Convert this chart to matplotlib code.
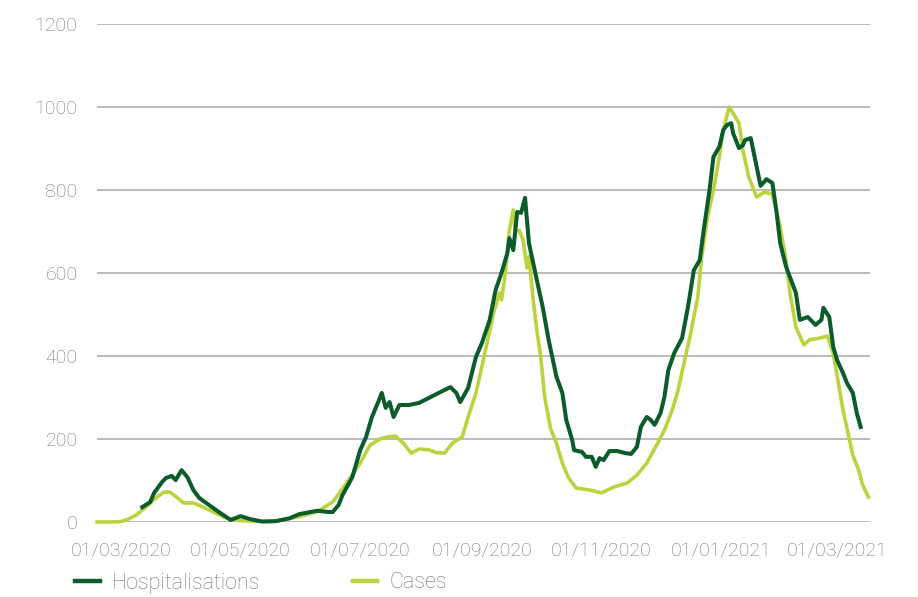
import matplotlib
matplotlib.use("Agg")
import matplotlib.pyplot as plt
import matplotlib.dates as mdates
import pandas as pd

cases_dates = [
    "2020-02-18", "2020-02-25", "2020-03-01", "2020-03-04", "2020-03-09", "2020-03-14",
    "2020-03-19", "2020-03-23", "2020-03-26", "2020-03-30", "2020-04-02", "2020-04-07",
    "2020-04-10", "2020-04-15", "2020-04-22", "2020-04-27", "2020-05-02", "2020-05-10",
    "2020-05-17", "2020-05-23", "2020-05-31", "2020-06-09", "2020-06-17", "2020-06-24",
    "2020-07-01", "2020-07-06", "2020-07-11", "2020-07-15", "2020-07-19", "2020-07-23",
    "2020-07-27", "2020-07-31", "2020-08-05", "2020-08-09", "2020-08-13", "2020-08-17",
    "2020-08-22", "2020-08-25", "2020-08-29", "2020-09-01", "2020-09-04", "2020-09-07",
    "2020-09-10", "2020-09-11", "2020-09-13", "2020-09-15", "2020-09-17", "2020-09-18",
    "2020-09-20", "2020-09-22", "2020-09-24", "2020-09-25", "2020-09-27", "2020-09-29",
    "2020-10-01", "2020-10-03", "2020-10-06", "2020-10-09", "2020-10-12", "2020-10-15",
    "2020-10-19", "2020-10-26", "2020-11-01", "2020-11-07", "2020-11-14", "2020-11-19",
    "2020-11-24", "2020-11-29", "2020-12-03", "2020-12-07", "2020-12-10", "2020-12-13",
    "2020-12-16", "2020-12-20", "2020-12-22", "2020-12-25", "2020-12-28", "2020-12-31",
    "2021-01-02", "2021-01-05", "2021-01-07", "2021-01-10", "2021-01-12", "2021-01-15",
    "2021-01-19", "2021-01-23", "2021-01-27", "2021-01-31", "2021-02-03", "2021-02-05",
    "2021-02-08", "2021-02-12", "2021-02-15", "2021-02-20", "2021-02-24", "2021-02-27",
    "2021-03-02", "2021-03-04", "2021-03-07", "2021-03-09", "2021-03-12", "2021-03-14",
    "2021-03-17",
]
cases_values = [
    0, 0, 1, 5, 17, 37,
    58, 72, 72, 58, 46, 46,
    40, 29, 13, 5, 3, 2,
    2, 5, 13, 25, 48, 93,
    142, 185, 200, 205, 207, 190,
    166, 176, 174, 167, 166, 190,
    205, 253, 311, 374, 439, 504,
    552, 535, 600, 703, 752, 700,
    703, 680, 612, 640, 542, 462,
    398, 301, 225, 190, 142, 108,
    82, 77, 70, 84, 94, 113,
    142, 185, 221, 270, 318, 383,
    446, 542, 639, 735, 800, 880,
    945, 1000, 985, 961, 896, 831,
    783, 795, 790, 711, 631, 552,
    470, 427, 439, 443, 448, 407,
    325, 270, 205, 161, 125, 89,
    60,
]

hosp_dates = [
    "2020-03-12", "2020-03-16", "2020-03-18", "2020-03-22", "2020-03-24", "2020-03-27",
    "2020-03-29", "2020-04-01", "2020-04-04", "2020-04-07", "2020-04-10", "2020-04-15",
    "2020-04-20", "2020-04-26", "2020-05-01", "2020-05-06", "2020-05-12", "2020-05-19",
    "2020-05-26", "2020-05-31", "2020-06-09", "2020-06-15", "2020-06-17", "2020-06-20",
    "2020-06-22", "2020-06-27", "2020-07-01", "2020-07-04", "2020-07-07", "2020-07-10",
    "2020-07-12", "2020-07-14", "2020-07-16", "2020-07-18", "2020-07-21", "2020-07-26",
    "2020-07-31", "2020-08-05", "2020-08-10", "2020-08-16", "2020-08-19", "2020-08-21",
    "2020-08-25", "2020-08-29", "2020-09-01", "2020-09-05", "2020-09-08", "2020-09-11",
    "2020-09-14", "2020-09-15", "2020-09-17", "2020-09-19", "2020-09-21", "2020-09-23",
    "2020-09-25", "2020-09-29", "2020-10-02", "2020-10-05", "2020-10-09", "2020-10-12",
    "2020-10-14", "2020-10-17", "2020-10-18", "2020-10-22", "2020-10-24", "2020-10-27",
    "2020-10-29", "2020-10-31", "2020-11-02", "2020-11-05", "2020-11-09", "2020-11-13",
    "2020-11-16", "2020-11-19", "2020-11-21", "2020-11-24", "2020-11-26", "2020-11-28",
    "2020-12-01", "2020-12-03", "2020-12-05", "2020-12-08", "2020-12-12", "2020-12-15",
    "2020-12-18", "2020-12-21", "2020-12-23", "2020-12-26", "2020-12-28", "2020-12-31",
    "2021-01-02", "2021-01-04", "2021-01-06", "2021-01-07", "2021-01-10", "2021-01-12",
    "2021-01-13", "2021-01-16", "2021-01-19", "2021-01-21", "2021-01-24", "2021-01-27",
    "2021-01-29", "2021-01-31", "2021-02-03", "2021-02-08", "2021-02-10", "2021-02-14",
    "2021-02-18", "2021-02-21", "2021-02-22", "2021-02-25", "2021-02-27", "2021-03-01",
    "2021-03-04", "2021-03-06", "2021-03-09", "2021-03-11", "2021-03-13",
]
hosp_values = [
    36, 48, 70, 96, 106, 111,
    101, 125, 108, 77, 58, 41,
    24, 5, 14, 7, 1, 2,
    9, 19, 27, 24, 24, 41,
    65, 108, 173, 205, 253, 287,
    311, 275, 289, 253, 282, 282,
    287, 299, 311, 325, 311, 289,
    323, 398, 431, 487, 559, 600,
    648, 684, 655, 747, 745, 781,
    672, 583, 518, 439, 350, 311,
    246, 198, 173, 169, 157, 157,
    133, 154, 149, 171, 171, 166,
    164, 181, 229, 253, 246, 234,
    262, 301, 366, 407, 443, 518,
    607, 631, 703, 800, 880, 904,
    945, 957, 961, 937, 901, 908,
    920, 925, 856, 810, 826, 817,
    752, 672, 615, 552, 487, 494,
    475, 487, 516, 494, 422, 390,
    359, 335, 311, 263, 229,
]

tick_dates = ["2020-03-01", "2020-05-01", "2020-07-01", "2020-09-01",
              "2020-11-01", "2021-01-01", "2021-03-01"]
y_ticks = [0, 200, 400, 600, 800, 1000, 1200]
series_labels = ["Hospitalisations", "Cases"]

DARK = "#0a5c2b"
LIGHT = "#bcd23e"
TEXT = "#757575"
GRID = "#a8a8a8"

plt.rcParams["font.family"] = ["Roboto", "DejaVu Sans"]

fig = plt.figure(figsize=(9.18, 5.97), dpi=100)
ax = fig.add_axes([97 / 918, 1 - 522 / 597, (870 - 97) / 918, (522 - 24) / 597])

cd = pd.to_datetime(cases_dates)
hd = pd.to_datetime(hosp_dates)

ax.plot(cd, cases_values, color=LIGHT, lw=2.6, solid_joinstyle="round",
        clip_on=False, zorder=3, label=series_labels[1])
ax.plot(hd, hosp_values, color=DARK, lw=2.9, solid_joinstyle="round",
        clip_on=False, zorder=4, label=series_labels[0])

ax.set_ylim(0, 1200)
ax.set_yticks(y_ticks)
ax.set_xlim(pd.Timestamp("2020-02-17 22:00"), pd.Timestamp("2021-03-17 18:00"))
ax.set_xticks(pd.to_datetime(tick_dates))
ax.xaxis.set_major_formatter(mdates.DateFormatter("%d/%m/%Y"))

for s in ax.spines.values():
    s.set_visible(False)
ax.grid(axis="y", color=GRID, lw=1.1, zorder=0)
ax.grid(axis="x", visible=False)
ax.set_axisbelow(True)
ax.tick_params(axis="both", length=0, labelsize=14, labelcolor=TEXT)
ax.tick_params(axis="y", pad=14)
ax.tick_params(axis="x", pad=14)
for lbl in ax.get_xticklabels() + ax.get_yticklabels():
    lbl.set_fontweight("light")

handles, labels = ax.get_legend_handles_labels()
order = [1, 0]
leg = fig.legend([handles[i] for i in order], [labels[i] for i in order],
                 loc="center left", bbox_to_anchor=(75 / 918, 1 - 583 / 597),
                 ncol=2, frameon=False, fontsize=15.5, handlelength=1.15,
                 handletextpad=0.55, columnspacing=4.3, borderpad=0,
                 borderaxespad=0)
for t in leg.get_texts():
    t.set_color(TEXT)
    t.set_fontweight("light")
for h in leg.get_lines():
    h.set_linewidth(3.2)

fig.savefig("out.png", dpi=100)
